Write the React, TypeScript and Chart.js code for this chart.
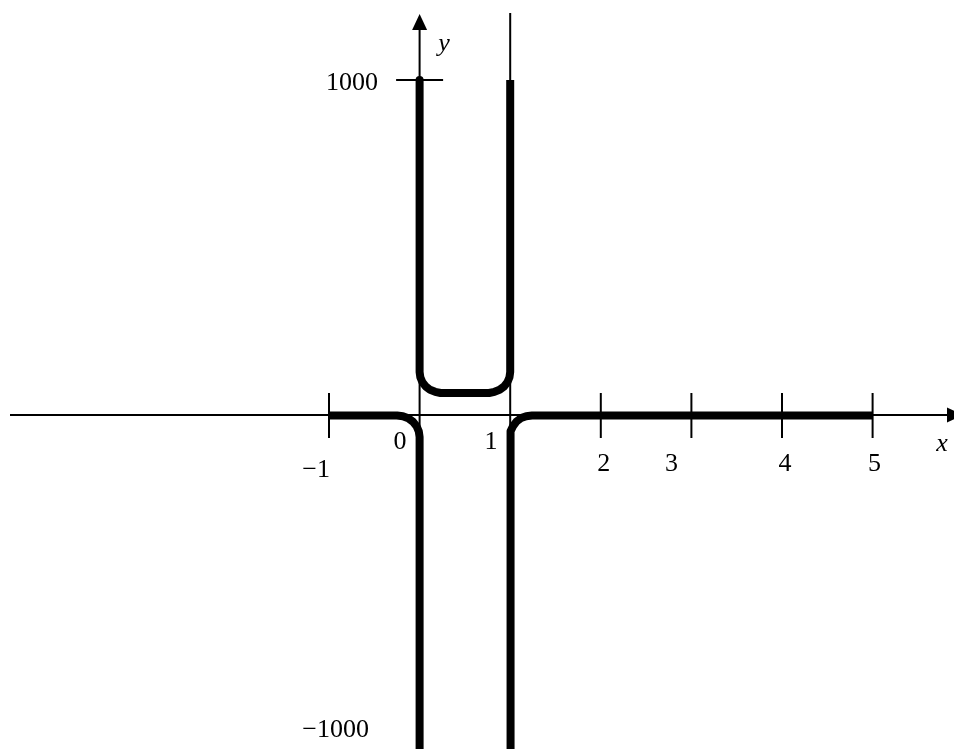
import React, { useEffect, useRef } from "react";
import { Chart, registerables } from "chart.js";

Chart.register(...registerables);

// Branch x < 0 (from x = -1 toward the asymptote x = 0)
const leftX = [-1.0, -0.249, -0.185, -0.125, -0.073, -0.033, -0.009, 0.0, 0.0];
const leftY = [-1.5, -1.5, -3.6, -9.9, -20.3, -33.7, -49, -65.7, -1030];

// Branch 0 < x < 1
const midX = [0.0, 0.0, 0.008, 0.031, 0.068, 0.116, 0.172, 0.232, 0.766, 0.827, 0.883, 0.932, 0.969, 0.992, 1.0, 1.0];
const midY = [1000, 128.4, 112.5, 97.6, 85.1, 75.2, 69.3, 65.7, 65.7, 69.3, 75.2, 85.1, 97.6, 112.5, 128.4, 1000];

// Branch x > 1
const rightX = [1.0, 1.0, 1.008, 1.032, 1.071, 1.12, 1.177, 1.241, 5.0];
const rightY = [-1030, -65.7, -48.7, -32.8, -19.1, -9.3, -3.6, -1.5, -1.5];

// Axis ticks and labels
const xTicks = [-1, 2, 3, 4, 5];
const xLabelValues = [-1, 0, 1, 2, 3, 4, 5];
const xLabelTexts = ["\u22121", "0", "1", "2", "3", "4", "5"];
const yLabelValues = [1000, -1000];
const yLabelTexts = ["1000", "\u22121000"];
const asymptoteX = 1;

// layout-only offsets (pixels) for label placement
const xLabelOffsets: [number, number, string][] = [
  [1, 55, "right"],
  [-19.6, 27, "center"],
  [-19.2, 27, "center"],
  [3, 49, "center"],
  [-20, 49, "center"],
  [3, 49, "center"],
  [2, 49, "center"],
];
const yLabelOffsets: [number, number][] = [
  [-41.6, 3],
  [-50.6, -20],
];

const toPts = (xs: number[], ys: number[]) => xs.map((x, i) => ({ x, y: ys[i] }));

const axesPlugin = {
  id: "mathAxes",
  beforeDatasetsDraw(chart: any) {
    const ctx = chart.ctx;
    const sx = chart.scales.x;
    const sy = chart.scales.y;
    const x0 = sx.getPixelForValue(0);
    const y0 = sy.getPixelForValue(0);
    ctx.save();
    ctx.strokeStyle = "#000";
    ctx.fillStyle = "#000";
    ctx.lineWidth = 2;
    // x axis
    ctx.beginPath();
    ctx.moveTo(10, y0);
    ctx.lineTo(948, y0);
    ctx.stroke();
    ctx.beginPath();
    ctx.moveTo(947, y0 - 7.5);
    ctx.lineTo(963, y0);
    ctx.lineTo(947, y0 + 7.5);
    ctx.closePath();
    ctx.fill();
    // y axis
    ctx.beginPath();
    ctx.moveTo(x0, 29);
    ctx.lineTo(x0, 749);
    ctx.stroke();
    ctx.beginPath();
    ctx.moveTo(x0 - 7.5, 30);
    ctx.lineTo(x0, 14);
    ctx.lineTo(x0 + 7.5, 30);
    ctx.closePath();
    ctx.fill();
    // asymptote x = 1
    const xa = sx.getPixelForValue(asymptoteX);
    ctx.beginPath();
    ctx.moveTo(xa, 13);
    ctx.lineTo(xa, 749);
    ctx.stroke();
    // x ticks
    xTicks.forEach((v) => {
      const px = sx.getPixelForValue(v);
      ctx.beginPath();
      ctx.moveTo(px, y0 - 22);
      ctx.lineTo(px, y0 + 23);
      ctx.stroke();
    });
    // y tick at 1000
    const py = sy.getPixelForValue(1000);
    ctx.beginPath();
    ctx.moveTo(x0 - 23.5, py);
    ctx.lineTo(x0 + 23.5, py);
    ctx.stroke();
    ctx.restore();
  },
  afterDatasetsDraw(chart: any) {
    const ctx = chart.ctx;
    const sx = chart.scales.x;
    const sy = chart.scales.y;
    const x0 = sx.getPixelForValue(0);
    const y0 = sy.getPixelForValue(0);
    ctx.save();
    ctx.fillStyle = "#000";
    ctx.textBaseline = "middle";
    ctx.font = '26px "Liberation Serif", "Times New Roman", serif';
    xLabelValues.forEach((v, i) => {
      const [dx, dy, align] = xLabelOffsets[i];
      ctx.textAlign = align;
      ctx.fillText(xLabelTexts[i], sx.getPixelForValue(v) + dx, y0 + dy);
    });
    yLabelValues.forEach((v, i) => {
      const [dx, dy] = yLabelOffsets[i];
      ctx.textAlign = "right";
      ctx.fillText(yLabelTexts[i], x0 + dx, sy.getPixelForValue(v) + dy);
    });
    ctx.font = 'italic 26px "Liberation Serif", "Times New Roman", serif';
    ctx.textAlign = "center";
    ctx.fillText("x", 942, y0 + 29);
    ctx.fillText("y", x0 + 24.4, 44);
    ctx.restore();
  },
};

export default function App() {
  const ref = useRef<HTMLCanvasElement | null>(null);
  useEffect(() => {
    if (!ref.current) return;
    const common = {
      showLine: true,
      borderColor: "#000",
      backgroundColor: "#000",
      borderWidth: 8,
      pointRadius: 0,
      tension: 0,
      borderJoinStyle: "round" as const,
      borderCapStyle: "butt" as const,
      fill: false,
    };
    const chart = new Chart(ref.current, {
      type: "scatter",
      data: {
        datasets: [
          { ...common, label: "x<0", data: toPts(leftX, leftY) },
          { ...common, label: "0<x<1", data: toPts(midX, midY) },
          { ...common, label: "x>1", data: toPts(rightX, rightY) },
        ],
      },
      options: {
        animation: false,
        responsive: false,
        events: [],
        layout: { padding: 0 },
        plugins: { legend: { display: false }, tooltip: { enabled: false }, title: { display: false } },
        scales: {
          x: { type: "linear", display: false, min: -419.6 / 90.6, max: (954 - 419.6) / 90.6 },
          y: { type: "linear", display: false, min: (415 - 749) / 0.335, max: 415 / 0.335 },
        },
      },
      plugins: [axesPlugin],
    });
    return () => chart.destroy();
  }, []);
  return (
    <div style={{ position: "fixed", left: 0, top: 0, width: 954, height: 749, background: "#fff" }}>
      <canvas ref={ref} width={954} height={749} style={{ display: "block" }} />
    </div>
  );
}
